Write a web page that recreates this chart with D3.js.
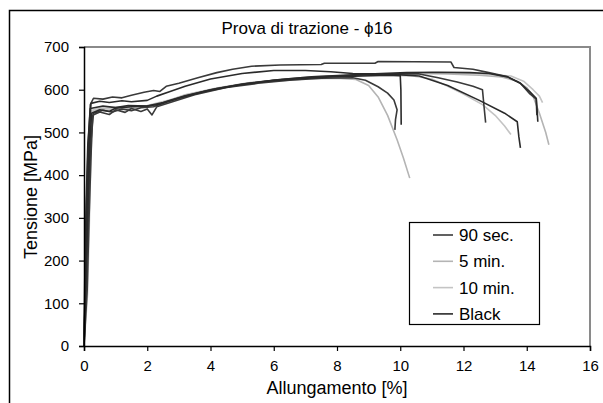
<!DOCTYPE html>
<html>
<head>
<meta charset="utf-8">
<script src="https://cdn.jsdelivr.net/npm/d3@7"></script>
<style>
  body { margin: 0; background: #fff; }
  svg { display: block; font-family: "Liberation Sans", Arial, sans-serif; }
</style>
</head>
<body>
<div id="chart"></div>
<script>
// series names and legend order
const seriesNames = ['90 sec.', '5 min.', '10 min.', 'Black'];
const seriesColors = ['#3a3a3a', '#b4b4b4', '#c4c4c4', '#2a2a2a'];

const xTicks = [0, 2, 4, 6, 8, 10, 12, 14, 16];
const yTicks = [0, 100, 200, 300, 400, 500, 600, 700];

// specimens: [allungamento %, tensione MPa]
const curveA = [[0,0],[0.04,150],[0.08,330],[0.13,470],[0.2,565],[0.3,580],[0.6,578],[0.9,583],[1.2,581],[1.5,587],[1.9,594],[2.2,598],[2.4,596],[2.6,608],[3.0,615],[3.6,628],[4.2,640],[4.7,648],[5.3,655],[6.2,658],[7.5,659],[7.6,662],[9.2,662],[9.3,666],[11.6,665],[11.7,652],[12.3,648],[12.8,640],[13.4,630],[13.8,615],[14.1,590],[14.3,578],[14.32,540]];
const curveB = [[0,0],[0.08,160],[0.15,350],[0.22,480],[0.3,545],[0.6,552],[0.9,548],[1.2,555],[1.5,551],[1.8,558],[2.2,560],[2.6,572],[3.2,585],[4.0,600],[5.0,613],[6.0,622],[7.0,628],[8.0,632],[9.0,635],[10.0,637],[10.6,637],[11.2,628],[11.8,618],[12.3,608],[12.6,600],[12.65,560],[12.7,523]];
const curveC = [[0,0],[0.1,130],[0.16,300],[0.22,440],[0.27,540],[0.5,548],[0.8,542],[1.0,553],[1.3,547],[1.5,556],[1.8,549],[2.0,555],[2.15,541],[2.3,560],[2.8,572],[3.5,588],[4.5,605],[5.5,615],[6.5,622],[7.5,627],[8.5,628],[8.9,622],[9.3,607],[9.6,592],[9.8,576],[9.9,553],[9.85,530],[9.83,506]];
const curveD = [[0,0],[0.05,150],[0.1,330],[0.17,500],[0.22,568],[0.5,573],[0.8,570],[1.2,574],[1.5,572],[2.0,575],[2.3,585],[2.7,595],[3.2,608],[4.0,625],[5.0,638],[6.0,645],[7.0,645],[7.8,642],[8.5,638],[9.5,637],[10.6,632],[11.5,610],[12.5,575],[13.3,545],[13.7,525],[13.75,490],[13.8,464]];
const curveE = [[0,0],[0.06,170],[0.12,320],[0.18,470],[0.24,545],[0.5,553],[0.8,549],[1.0,557],[1.5,560],[2.0,562],[2.4,566],[3.0,580],[3.8,596],[4.8,610],[5.8,620],[6.8,626],[7.8,630],[8.8,632],[9.6,634],[10.0,633],[10.02,600],[10.03,518]];
const curveF = [[0,0],[0.03,190],[0.07,340],[0.12,470],[0.2,556],[0.6,562],[1.0,558],[1.4,563],[2.0,562],[2.5,570],[3.2,586],[4.2,603],[5.2,615],[6.2,624],[7.2,630],[8.2,634],[9.2,637],[10.2,640],[11.2,641],[12.2,640],[12.8,638],[13.4,630],[13.8,615],[14.1,595],[14.3,580],[14.33,550],[14.35,525]];
const curveG = [[0,0],[0.05,200],[0.1,330],[0.14,420],[0.2,530],[0.3,550],[0.7,556],[1.1,552],[1.5,557],[2.0,560],[2.5,568],[3.0,580],[4.0,598],[5.0,612],[6.0,620],[7.0,625],[8.0,627],[8.6,624],[9.0,610],[9.3,583],[9.6,540],[9.9,483],[10.1,440],[10.3,393]];
const curveH = [[0,0],[0.09,140],[0.14,310],[0.19,440],[0.26,545],[0.5,556],[1.2,560],[2.0,562],[2.5,570],[3.2,588],[4.2,604],[5.2,616],[6.2,624],[7.2,630],[8.2,633],[9.5,636],[10.5,638],[11.5,637],[12.5,634],[13.2,630],[13.7,620],[14.0,605],[14.2,585],[14.4,545],[14.6,500],[14.7,471]];
const curveI = [[0,0],[0.07,210],[0.12,360],[0.18,480],[0.25,552],[0.6,560],[1.0,556],[1.5,561],[2.0,563],[2.6,574],[3.4,590],[4.4,605],[5.4,617],[6.4,625],[7.4,630],[8.4,633],[9.4,634],[10.4,632],[11.0,625],[11.5,608],[12.0,590],[12.6,565],[13.0,540],[13.3,515],[13.5,495]];
const curveJ = [[0,0],[0.11,120],[0.17,290],[0.22,450],[0.28,550],[0.8,556],[1.6,560],[2.2,562],[2.8,575],[3.6,592],[4.6,607],[5.6,618],[6.6,626],[7.6,631],[8.6,634],[10.0,638],[11.0,640],[12.0,638],[12.8,636],[13.5,632],[13.9,620],[14.2,600],[14.4,585],[14.5,570]];

// [series index, curve]
const specimens = [
  [1, curveG], [1, curveH], [2, curveI], [2, curveJ],
  [0, curveA], [0, curveB], [0, curveC],
  [3, curveD], [3, curveE], [3, curveF]
];

const width = 603, height = 403;
const plot = { left: 84, right: 590, top: 47, bottom: 346 };

const svg = d3.select('#chart').append('svg')
  .attr('width', width)
  .attr('height', height);

// outer frame (only left and top edges are visible)
svg.append('path')
  .attr('d', `M9.5,${height + 5} V10.5 H${width + 5}`)
  .attr('fill', 'none')
  .attr('stroke', '#000')
  .attr('stroke-width', 1.5);

const x = d3.scaleLinear().domain([0, 16]).range([plot.left, plot.right]);
const y = d3.scaleLinear().domain([0, 700]).range([plot.bottom, plot.top]);

// grey top/right border of plot area
svg.append('path')
  .attr('d', `M${plot.left},${plot.top} H${plot.right} V${plot.bottom}`)
  .attr('fill', 'none')
  .attr('stroke', '#8a8a8a')
  .attr('stroke-width', 2);

// curves
const line = d3.line().x(d => x(d[0])).y(d => y(d[1]));
svg.append('g')
  .selectAll('path')
  .data(specimens)
  .enter()
  .append('path')
  .attr('d', d => line(d[1]))
  .attr('fill', 'none')
  .attr('stroke', d => seriesColors[d[0]])
  .attr('stroke-width', 1.6)
  .attr('stroke-linejoin', 'round');

// axes
const xAxis = svg.append('g')
  .attr('transform', `translate(0,${plot.bottom})`)
  .call(d3.axisBottom(x).tickValues(xTicks).tickSize(5).tickPadding(9));
const yAxis = svg.append('g')
  .attr('transform', `translate(${plot.left},0)`)
  .call(d3.axisLeft(y).tickValues(yTicks).tickSize(5).tickPadding(10));

[xAxis, yAxis].forEach(g => {
  g.select('.domain').attr('stroke', '#000').attr('stroke-width', 1.5);
  g.selectAll('.tick line').attr('stroke', '#000').attr('stroke-width', 1.2);
  g.selectAll('.tick text')
    .attr('fill', '#000')
    .style('font-size', '15px')
    .style('font-family', '"Liberation Sans", Arial, sans-serif');
});

// title
svg.append('text')
  .attr('x', 307)
  .attr('y', 34)
  .attr('text-anchor', 'middle')
  .style('font-size', '17px')
  .text('Prova di trazione - \u03D516');

// axis titles
svg.append('text')
  .attr('x', 337)
  .attr('y', 394)
  .attr('text-anchor', 'middle')
  .style('font-size', '18px')
  .text('Allungamento [%]');

svg.append('text')
  .attr('transform', `translate(37,197) rotate(-90)`)
  .attr('text-anchor', 'middle')
  .style('font-size', '18px')
  .text('Tensione [MPa]');

// legend
const legend = svg.append('g').attr('transform', 'translate(409,222)');
legend.append('rect')
  .attr('x', 0.5).attr('y', 0.5)
  .attr('width', 130).attr('height', 102)
  .attr('fill', '#fff')
  .attr('stroke', '#000')
  .attr('stroke-width', 1.2);

const items = legend.selectAll('g.item')
  .data(seriesNames)
  .enter()
  .append('g')
  .attr('class', 'item')
  .attr('transform', (d, i) => `translate(0,${13 + i * 26.3})`);

items.append('line')
  .attr('x1', 24).attr('x2', 44)
  .attr('stroke', (d, i) => seriesColors[i])
  .attr('stroke-width', 1.6);

items.append('text')
  .attr('x', 50)
  .attr('dy', '0.35em')
  .style('font-size', '17px')
  .text(d => d);
</script>
</body>
</html>
